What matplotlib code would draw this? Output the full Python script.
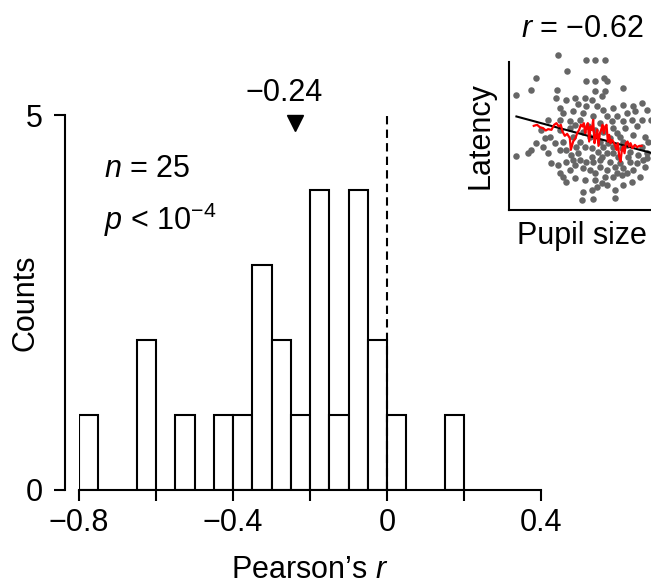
import numpy as np
import matplotlib
matplotlib.use("Agg")
import matplotlib.pyplot as plt

plt.rcParams['font.family'] = ['Liberation Sans', 'DejaVu Sans']
plt.rcParams['mathtext.fontset'] = 'custom'
plt.rcParams['mathtext.rm'] = 'Liberation Sans'
plt.rcParams['mathtext.it'] = 'Liberation Sans:italic'

# histogram of per-session Pearson r (bin width 0.05)
bin_left = [-0.8, -0.65, -0.55, -0.45, -0.4, -0.35, -0.3, -0.25,
            -0.2, -0.15, -0.1, -0.05, 0.0, 0.15]
counts = [1, 2, 1, 1, 1, 3, 2, 1, 4, 1, 4, 2, 1, 1]
bin_width = 0.05
median_r = -0.24

xticks = [-0.8, -0.6, -0.4, -0.2, 0, 0.2, 0.4]
xticklabels = ['\u22120.8', '', '\u22120.4', '', '0', '', '0.4']

# example session (arbitrary units)
pupil = [147, 232, 257, 287, 174, 82, 232, 257, 284, 292, 22, 67, 144, 257, 287,
         340, 142, 172, 197, 227, 247, 277, 152, 207, 232, 262, 282, 312, 342,
         372, 397, 162, 192, 222, 252, 292, 322, 352, 377, 412, 117, 152, 182,
         212, 272, 307, 342, 367, 397, 152, 182, 312, 347, 382, 97, 107, 122,
         192, 212, 272, 302, 332, 372, 407, 417, 82, 102, 137, 162, 227, 247,
         282, 312, 352, 397, 22, 57, 67, 117, 152, 187, 207, 292, 327, 357, 387,
         412, 127, 147, 172, 192, 212, 232, 252, 272, 302, 332, 362, 402, 152,
         162, 182, 222, 242, 272, 292, 317, 342, 372, 407, 172, 197, 227, 257,
         277, 312, 337, 367, 392, 262, 292, 317, 342, 222, 247, 220, 250, 317,
         425, 413, 197, 237, 257, 282, 322, 202, 242, 267, 297, 337, 362, 247,
         277, 312, 342, 222, 172, 197, 257, 287, 322, 352, 382]
latency = [463, 448, 448, 448, 417, 395, 387, 387, 395, 385, 343, 358, 358, 355,
           355, 365, 335, 328, 335, 335, 330, 342, 305, 317, 310, 310, 300, 305,
           315, 310, 320, 290, 295, 290, 280, 282, 282, 290, 295, 300, 270, 270,
           265, 270, 260, 265, 265, 270, 270, 240, 245, 245, 245, 250, 240, 215,
           220, 220, 205, 205, 215, 220, 225, 220, 205, 200, 190, 200, 205, 190,
           185, 190, 190, 195, 190, 163, 170, 180, 170, 180, 165, 170, 170, 160,
           160, 165, 170, 140, 135, 145, 150, 150, 145, 145, 150, 145, 140, 145,
           150, 110, 100, 120, 125, 120, 130, 120, 130, 125, 120, 130, 85, 95, 90,
           90, 80, 100, 105, 85, 100, 70, 75, 60, 75, 55, 60, 30, 32, 37, 270,
           155, 255, 250, 240, 235, 230, 190, 220, 175, 200, 185, 175, 160, 160,
           170, 205, 235, 180, 135, 110, 100, 110, 110, 140]

# running average
run_x = [74, 84, 92, 102, 110, 117, 127, 135, 142, 149, 155, 160, 167, 174, 182,
         185, 192, 199, 204, 210, 215, 220, 224, 228, 232, 236, 240, 244, 248,
         252, 256, 260, 264, 268, 272, 276, 280, 284, 288, 292, 296, 300, 304,
         308, 312, 317, 322, 326, 330, 334, 338, 342, 346, 350, 355, 360, 364,
         370, 377, 384, 390, 397]
run_y = [252, 255, 248, 245, 238, 242, 240, 255, 260, 250, 255, 235, 222, 228,
         215, 180, 205, 215, 230, 240, 255, 250, 260, 230, 248, 260, 205, 250,
         240, 270, 200, 220, 240, 192, 230, 240, 255, 230, 250, 255, 205, 225,
         200, 210, 205, 195, 180, 200, 160, 145, 180, 190, 170, 200, 205, 190,
         200, 185, 195, 188, 192, 192]

fit_x = [22, 437]
fit_y = [280, 168]

fs = 22

fig = plt.figure(figsize=(6.51, 5.85), dpi=100)
ax = fig.add_axes([0.1214, 0.1624, 0.7097, 0.641])

ax.bar(bin_left, counts, width=bin_width, align='edge', facecolor='white',
       edgecolor='black', linewidth=1.5, zorder=2)
ax.plot([0, 0], [0, 5], color='black', linestyle=(0, (4, 2.5)), linewidth=1.5, zorder=3)
ax.plot([median_r], [4.89], marker='v', color='black', markersize=12, clip_on=False)
ax.text(median_r - 0.027, 5.29, '\u22120.24', ha='center', va='center', fontsize=fs)

ax.text(-0.735, 4.17, '$n$ = 25', fontsize=fs, va='baseline')
ax.text(-0.735, 3.47, '$p$ < 10$^{\u22124}$', fontsize=fs, va='baseline')

ax.set_xlim(-0.8, 0.4)
ax.set_ylim(0, 5)
ax.set_xticks(xticks)
ax.set_xticklabels(xticklabels)
ax.set_yticks([0, 5])
ax.tick_params(labelsize=fs, width=1.5, length=8)
ax.tick_params(axis='y', pad=8)
ax.tick_params(axis='x', pad=5)
for s in ['top', 'right']:
    ax.spines[s].set_visible(False)
for s in ['left', 'bottom']:
    ax.spines[s].set_linewidth(1.5)
ax.spines['left'].set_position(('outward', 10))
ax.set_xlabel('Pearson\u2019s $r$', fontsize=fs, labelpad=12)
ax.set_ylabel('Counts', fontsize=fs)
ax.yaxis.set_label_coords(-0.084, 0.5)

# inset
ins = fig.add_axes([0.782, 0.641, 0.224, 0.253])
ins.scatter(pupil, latency, s=22, color='#666666', linewidths=0, clip_on=False, zorder=1)
ins.plot(fit_x, fit_y, color='black', linewidth=1.5, zorder=2)
ins.plot(run_x, run_y, color='red', linewidth=1.6, zorder=3)
ins.set_xlim(0, 437)
ins.set_ylim(0, 443)
ins.set_xticks([])
ins.set_yticks([])
ins.patch.set_alpha(0)
for s in ['top', 'right']:
    ins.spines[s].set_visible(False)
for s in ['left', 'bottom']:
    ins.spines[s].set_linewidth(1.5)
ins.set_title('$r$ = \u22120.62', fontsize=fs, pad=18)
ins.set_xlabel('Pupil size', fontsize=fs, labelpad=8)
ins.set_ylabel('Latency', fontsize=fs, labelpad=10)

fig.savefig('out.png', dpi=100)
